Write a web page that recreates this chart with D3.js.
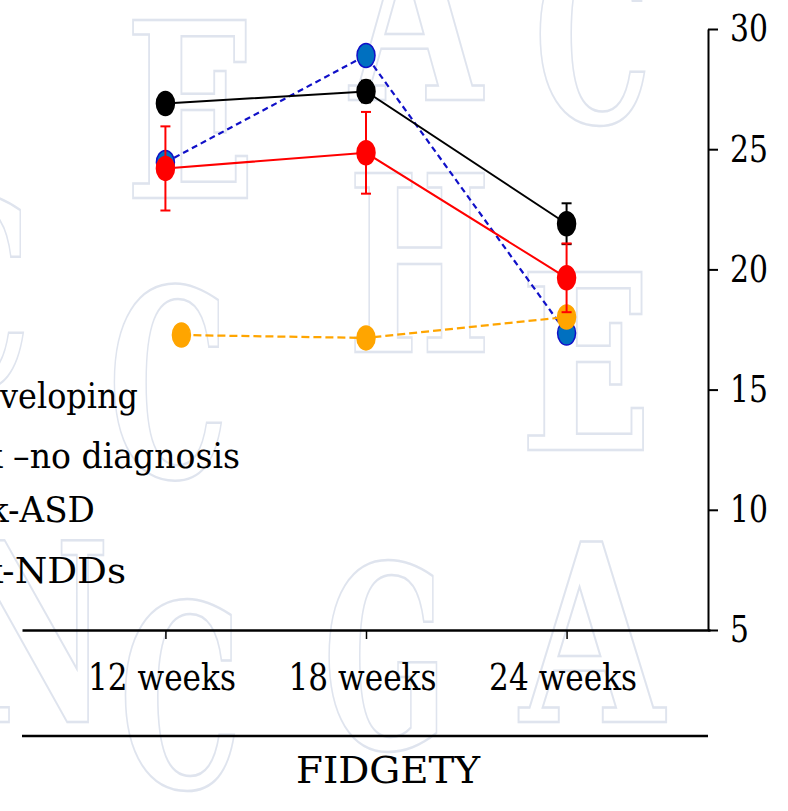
<!DOCTYPE html>
<html>
<head>
<meta charset="utf-8">
<script src="https://cdn.jsdelivr.net/npm/d3@7"></script>
<style>
  html, body { margin: 0; padding: 0; background: #fff; }
  svg { display: block; }
  svg text { font-family: "DejaVu Serif", serif; }
</style>
</head>
<body>
<div id="chart"></div>
<script>
// data
const groups = ['12 weeks', '18 weeks', '24 weeks'];
const seriesNames = ['Typically developing', 'At risk \u2013no diagnosis', 'At risk-ASD', 'At risk-NDDs'];
const typicalMean = [26.9, 27.4, 21.9];
const typicalErr = [0.3, 0.45, 0.85];
const noDiagMean = [24.2, 24.85, 19.65];
const noDiagErr = [1.75, 1.7, 1.43];
const asdMean = [24.45, 28.9, 17.35];
const nddMean = [17.27, 17.15, 18.02];
const yTicks = [5, 10, 15, 20, 25, 30];
const xTitle = 'FIDGETY';

const width = 788, height = 811;
const serif = '"DejaVu Serif", serif';

const svg = d3.select('#chart')
  .append('svg')
    .attr('width', width)
    .attr('height', height);

// watermark letters behind the chart
const watermark = [
  ['E', 125, 20, 131, 178], ['A', 350, -80, 132, 180], ['C', 534, -55, 118, 178],
  ['C', -90, 197, 121, 190], ['C', 108, 287, 121, 190], ['H', 348, 173, 143, 179], ['E', 520, 272, 132, 178],
  ['N', -40, 540, 150, 182], ['C', 119, 603, 123, 184], ['G', 323, 563, 125, 185], ['A', 520, 542, 144, 180]
];
svg.append('g')
  .selectAll('text')
  .data(watermark)
  .join('text')
    .attr('x', d => d[1])
    .attr('y', d => d[2] + d[4])
    .attr('textLength', d => d[3])
    .attr('lengthAdjust', 'spacingAndGlyphs')
    .style('font-family', serif)
    .style('font-weight', 'bold')
    .style('font-size', d => (d[4] / 0.729) + 'px')
    .attr('fill', 'none')
    .attr('stroke', '#dfe4ee')
    .attr('stroke-width', 2.5)
    .text(d => d[0]);

// scales
const x = d3.scalePoint()
    .domain(groups)
    .range([22, 710])
    .padding(0.715);
const y = d3.scaleLinear()
    .domain([5, 30])
    .range([630, 29]);

// axes
const xAxis = svg.append('g')
    .attr('transform', 'translate(0,630)')
    .call(d3.axisBottom(x).tickSize(9).tickSizeOuter(0).tickPadding(25));
xAxis.select('.domain').attr('stroke-width', 2.5);
xAxis.selectAll('.tick line').attr('stroke-width', 1.5);
xAxis.selectAll('.tick text')
    .attr('dx', -4)
    .attr('textLength', 148)
    .attr('lengthAdjust', 'spacingAndGlyphs')
    .style('font-size', '37px')
    .style('font-family', serif)
    .attr('fill', '#000');

const yAxis = svg.append('g')
    .attr('transform', 'translate(708,0)')
    .call(d3.axisRight(y).tickValues(yTicks).tickSize(10).tickSizeOuter(0).tickPadding(12));
yAxis.select('.domain').attr('stroke-width', 2);
yAxis.selectAll('.tick line').attr('stroke-width', 2);
yAxis.selectAll('.tick text')
    .attr('textLength', d => d < 10 ? 19 : 38)
    .attr('lengthAdjust', 'spacingAndGlyphs')
    .style('font-size', '37px')
    .style('font-family', serif)
    .attr('fill', '#000');

// second rule and group title
svg.append('line')
    .attr('x1', 22).attr('x2', 708)
    .attr('y1', 736).attr('y2', 736)
    .attr('stroke', '#000')
    .attr('stroke-width', 2.5);
svg.append('text')
    .attr('x', 388)
    .attr('y', 783)
    .attr('text-anchor', 'middle')
    .attr('textLength', 184)
    .attr('lengthAdjust', 'spacingAndGlyphs')
    .style('font-size', '37px')
    .text(xTitle);

// series (drawn back to front)
const series = [
  { means: asdMean, errs: null, line: '#1010c8', fill: '#0070c0', stroke: '#1010c8', dash: '6,4', shift: [0, 0, 0] },
  { means: nddMean, errs: null, line: '#ffa500', fill: '#ffa500', stroke: '#ffa500', dash: '8,4', shift: [16, 0, 0] },
  { means: typicalMean, errs: typicalErr, line: '#000', fill: '#000', stroke: '#000', dash: null, shift: [0, 0, 0] },
  { means: noDiagMean, errs: noDiagErr, line: '#ff0000', fill: '#ff0000', stroke: '#ff0000', dash: null, shift: [0, 0, 0] }
];

series.forEach(s => {
  const pts = groups.map((g, i) => ({ g, v: s.means[i], e: s.errs ? s.errs[i] : 0, dx: s.shift[i] }));
  const g = svg.append('g');

  g.append('path')
    .datum(pts)
    .attr('fill', 'none')
    .attr('stroke', s.line)
    .attr('stroke-width', s.dash ? 2.2 : 2)
    .attr('stroke-dasharray', s.dash)
    .attr('d', d3.line().x(d => x(d.g) + d.dx).y(d => y(d.v)));

  if (s.errs) {
    const eb = g.selectAll('.err')
      .data(pts)
      .join('g');
    eb.append('line')
      .attr('x1', d => x(d.g)).attr('x2', d => x(d.g))
      .attr('y1', d => y(d.v - d.e)).attr('y2', d => y(d.v + d.e))
      .attr('stroke', s.line).attr('stroke-width', 2);
    [-1, 1].forEach(sign => {
      eb.append('line')
        .attr('x1', d => x(d.g) - 5).attr('x2', d => x(d.g) + 5)
        .attr('y1', d => y(d.v + sign * d.e)).attr('y2', d => y(d.v + sign * d.e))
        .attr('stroke', s.line).attr('stroke-width', 2);
    });
  }

  g.selectAll('ellipse')
    .data(pts)
    .join('ellipse')
      .attr('cx', d => x(d.g) + d.dx)
      .attr('cy', d => y(d.v))
      .attr('rx', 9)
      .attr('ry', 12)
      .attr('fill', s.fill)
      .attr('stroke', s.stroke)
      .attr('stroke-width', 1.5);
});

// legend, cut by the left edge of the picture
// visible tail of each label: chars shown and their width in the reference
const legendRight = [138, 240, 95, 126];
const legendBase = [408, 468, 522, 583];
const legendTail = [[8, 138], [13, 227], [4, 87], [5, 124]];
svg.append('g')
  .selectAll('text')
  .data(seriesNames)
  .join('text')
    .attr('text-anchor', 'end')
    .style('font-size', '36px')
    .text(d => d)
    .each(function (d, i) {
      const n = d.length;
      const [k, w] = legendTail[i];
      const tail = this.getSubStringLength(n - k, k);
      const sx = tail > 0 ? w / tail : 0.9;
      d3.select(this).attr('transform', `translate(${legendRight[i]},${legendBase[i]}) scale(${sx},1)`);
    });
</script>
</body>
</html>
